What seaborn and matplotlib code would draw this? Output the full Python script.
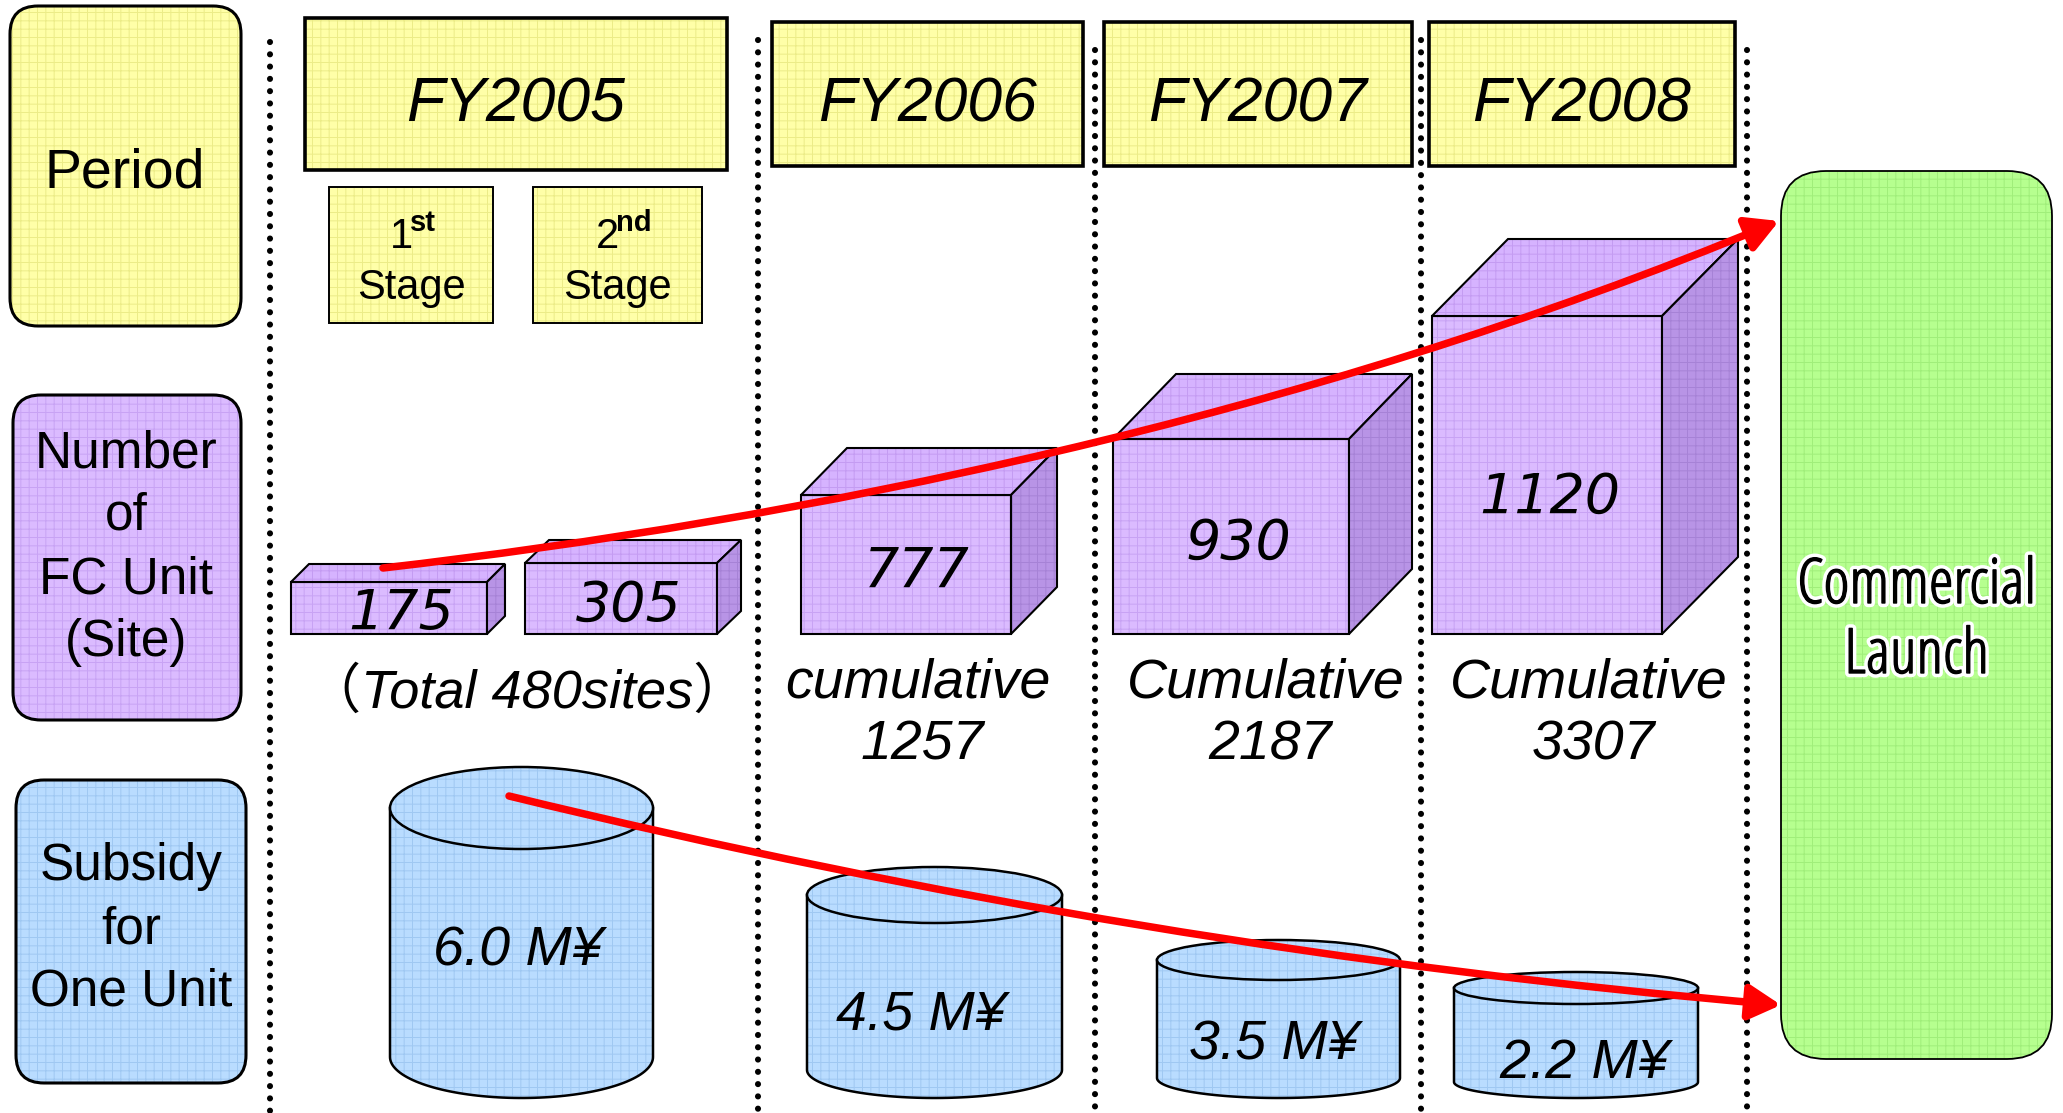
import numpy as np
import matplotlib
matplotlib.use("Agg")
import matplotlib.pyplot as plt
import matplotlib.patheffects as pe
from matplotlib import font_manager
from matplotlib.patches import FancyBboxPatch, Rectangle, Polygon, Ellipse, FancyArrowPatch
from matplotlib.path import Path
import seaborn as sns

# ---- chart content ----
row_titles = [["Period"], ["Number", "of", "FC Unit", "(Site)"], ["Subsidy", "for", "One Unit"]]
periods = ["FY2005", "FY2006", "FY2007", "FY2008"]
stage_nums = ["1", "2"]
stage_suffix = ["st", "nd"]
fc_units = [175, 305, 777, 930, 1120]
total_fy2005 = 480
cumulative_word = ["cumulative", "Cumulative", "Cumulative"]
cumulative_units = [1257, 2187, 3307]
subsidy_myen = [6.0, 4.5, 3.5, 2.2]
goal_label = ["Commercial", "Launch"]

# ---- layout in pixel space (y grows downward) ----
W, H = 2063, 1113
title_boxes = [(10, 6, 241, 326), (13, 395, 241, 720), (16, 780, 246, 1083)]
title_x = [125, 126, 131]
title_baselines = [[188], [467, 530, 593, 656], [880, 943, 1005]]
divider_x = [270, 758, 1095, 1421, 1747]
divider_top = [42, 40, 50, 40, 50]
year_boxes = [(305, 18, 727, 170), (772, 22, 1083, 166), (1104, 22, 1412, 166), (1429, 22, 1735, 166)]
stage_boxes = [(329, 187, 493, 323), (533, 187, 702, 323)]
cube_x = [(291, 487), (525, 717), (801, 1011), (1113, 1349), (1432, 1662)]
cube_top = [582, 563, 495, 439, 316]
cube_depth = [(18, 18), (24, 23), (46, 47), (63, 65), (76, 77)]
cube_base = 634
cube_label_xy = [(401, 629), (629, 621), (917, 587), (1238, 559), (1550, 513)]
cyl_x = [(390, 653), (807, 1062), (1157, 1400), (1454, 1698)]
cyl_top = [767, 867, 940, 972]
cyl_ry = [41, 28, 20, 16]
cyl_bottom = 1098
cyl_label_xy = [(518, 965), (921, 1030), (1274, 1060), (1584, 1078)]
cum_x = [918, 1266, 1589]
goal_box = (1781, 171, 2052, 1059)

# colours: (fill, grid texture)
YELLOW = ("#ffffa8", "#ecec88")
PURPLE = ("#dbbbff", "#c8a3f4")
PURPLE_TOP = ("#d6b3ff", "#c49cf2")
PURPLE_SIDE = ("#b894e6", "#a682d6")
BLUE = ("#b9dcff", "#9fc8f2")
GREEN = ("#b6ff8f", "#a0ee7a")
RED = "#ff0000"

sns.set_theme(style="white")
plt.rcParams["font.family"] = ["Liberation Sans", "DejaVu Sans"]
plt.rcParams["text.color"] = "black"
plt.rcParams["hatch.linewidth"] = 0.7

SANS = ["Liberation Sans", "DejaVu Sans"]

# a condensed face for "Commercial Launch" if one is installed
installed = {(f.name, f.stretch) for f in font_manager.fontManager.ttflist}
narrow_font = None
for name in ["Liberation Sans Narrow", "Noto Sans", "Open Sans", "Roboto", "DejaVu Sans"]:
    if any(n == name and s in ("condensed", "semi-condensed", "extra-condensed") for n, s in installed) \
            or (name, "normal") in installed and "Narrow" in name:
        narrow_font = name
        break

fig = plt.figure(figsize=(W / 100, H / 100), dpi=100)
ax = fig.add_axes([0, 0, 1, 1])
ax.set_xlim(0, W)
ax.set_ylim(H, 0)
ax.axis("off")


def textured(make, colors, lw=1.5, z=2):
    face, grid = colors
    ax.add_patch(make(facecolor=face, edgecolor="none", lw=0, zorder=z))
    ax.add_patch(make(facecolor="none", edgecolor=grid, lw=0, hatch="++", zorder=z))
    if lw:
        ax.add_patch(make(facecolor="none", edgecolor="black", lw=lw, zorder=z))


def rect(box, rounding=None):
    x0, y0, x1, y1 = box
    if rounding:
        return lambda **kw: FancyBboxPatch((x0, y0), x1 - x0, y1 - y0,
                                           boxstyle=f"round,pad=0,rounding_size={rounding}", **kw)
    return lambda **kw: Rectangle((x0, y0), x1 - x0, y1 - y0, **kw)


def poly(pts):
    return lambda **kw: Polygon(pts, closed=True, **kw)


# dotted dividers
for x, top in zip(divider_x, divider_top):
    ax.plot([x, x], [top, H], color="black", lw=4.4, linestyle=(0, (0.01, 2.0)),
            dash_capstyle="round", zorder=1)

# row titles
title_colors = [YELLOW, PURPLE, BLUE]
for box, col, lines, x, bls in zip(title_boxes, title_colors, row_titles, title_x, title_baselines):
    textured(rect(box, 28), col, lw=2.2)
    size = 40 if len(lines) == 1 else 37
    for line, b in zip(lines, bls):
        ax.text(x, b, line, ha="center", va="baseline", fontsize=size, family=SANS,
                color="black", zorder=5)

# fiscal years
for box, label in zip(year_boxes, periods):
    textured(rect(box), YELLOW, lw=2.6)
    cx = (box[0] + box[2]) / 2
    ax.text(cx, 121, label, ha="center", va="baseline", fontsize=45, style="italic",
            family=SANS, color="black", zorder=5)

# FY2005 stages
for box, num, suf in zip(stage_boxes, stage_nums, stage_suffix):
    textured(rect(box), YELLOW, lw=1.4)
    cx = (box[0] + box[2]) / 2
    ax.text(cx - 10, 248, num, ha="center", va="baseline", fontsize=30, family=SANS,
            color="black", zorder=5)
    ax.text(cx - 1, 231, suf, ha="left", va="baseline", fontsize=21, fontweight="bold",
            family=SANS, color="black", zorder=5)
    ax.text(cx, 299, "Stage", ha="center", va="baseline", fontsize=30, family=SANS,
            color="black", zorder=5)

# FC unit cubes
for (x0, x1), top, (dx, dy), val, (lx, ly) in zip(cube_x, cube_top, cube_depth, fc_units, cube_label_xy):
    b = cube_base
    textured(poly([(x0, top), (x1, top), (x1, b), (x0, b)]), PURPLE)
    textured(poly([(x0, top), (x0 + dx, top - dy), (x1 + dx, top - dy), (x1, top)]), PURPLE_TOP)
    textured(poly([(x1, top), (x1 + dx, top - dy), (x1 + dx, b - dy), (x1, b)]), PURPLE_SIDE)
    ax.text(lx, ly, str(val), ha="center", va="baseline", fontsize=40, style="italic",
            family=["DejaVu Sans"], color="black", zorder=5)

ax.text(527, 708, f"（Total {total_fy2005}sites）", ha="center", va="baseline", fontsize=39,
        style="italic", family=["Liberation Sans", "Noto Sans CJK JP"], color="black", zorder=5)
for x, word, val in zip(cum_x, cumulative_word, cumulative_units):
    ax.text(x, 697, word, ha="center", va="baseline", fontsize=40, style="italic",
            family=SANS, color="black", zorder=5)
    ax.text(x + 4, 760, str(val), ha="center", va="baseline", fontsize=40, style="italic",
            family=SANS, color="black", zorder=5)

# subsidy cylinders
theta = np.linspace(0, np.pi, 80)
for (x0, x1), top, ry, val, (lx, ly) in zip(cyl_x, cyl_top, cyl_ry, subsidy_myen, cyl_label_xy):
    cx, rx = (x0 + x1) / 2, (x1 - x0) / 2
    yt, yb = top + ry, cyl_bottom - ry
    arc = np.column_stack([cx - rx * np.cos(theta), yb + ry * np.sin(theta)])
    body = np.vstack([[(x0, yt)], arc, [(x1, yt)]])
    textured(poly(body), BLUE, lw=1.8)
    textured(lambda **kw: Ellipse((cx, yt), 2 * rx, 2 * ry, **kw), BLUE, lw=1.8)
    ax.text(lx, ly, f"{val:.1f} M¥", ha="center", va="baseline", fontsize=40, style="italic",
            family=SANS, color="black", zorder=5)

# commercial launch
textured(rect(goal_box, 45), GREEN, lw=1.3)
gx = (goal_box[0] + goal_box[2]) / 2
if narrow_font:
    # the condensed face is light, so thicken it a little with a black stroke
    goal_font = dict(family=[narrow_font, "Liberation Sans"], fontstretch="condensed", fontsize=45)
    goal_fx = [pe.withStroke(linewidth=6, foreground="white"),
               pe.withStroke(linewidth=1.0, foreground="black")]
else:
    goal_font = dict(family=SANS, fontsize=34)
    goal_fx = [pe.withStroke(linewidth=4, foreground="white")]
for line, b in zip(goal_label, [603, 673]):
    ax.text(gx, b, line, ha="center", va="baseline", color="black", zorder=5,
            path_effects=goal_fx, **goal_font)

# trend arrows
up = Path([(383, 568), (800, 520), (1300, 420), (1779, 221)],
          [Path.MOVETO, Path.CURVE4, Path.CURVE4, Path.CURVE4])
down = Path([(509, 796), (1144, 951), (1781, 1005)],
            [Path.MOVETO, Path.CURVE3, Path.CURVE3])
for p in (up, down):
    ax.add_patch(FancyArrowPatch(path=p, arrowstyle="-|>,head_length=0.4,head_width=0.22",
                                 mutation_scale=48, lw=5.4, color=RED, zorder=6))

fig.savefig("out.png", dpi=100)
